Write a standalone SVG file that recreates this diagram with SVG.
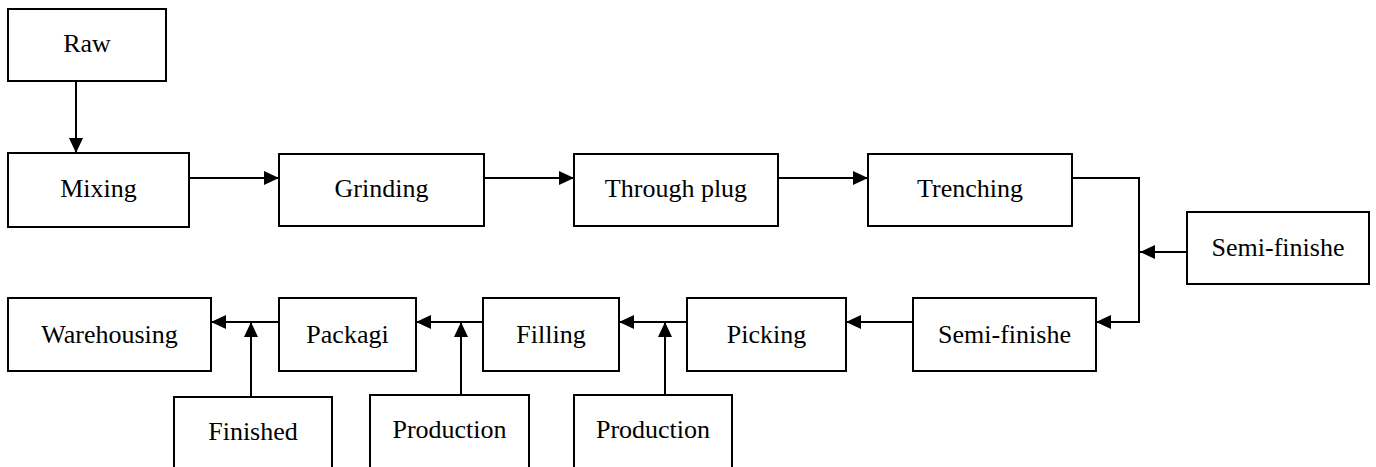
<svg xmlns="http://www.w3.org/2000/svg" width="1376" height="467" viewBox="0 0 1376 467">
<style>
.box{fill:#fff;stroke:#000;stroke-width:2}
.lbl{font-size:26px;fill:#000;text-anchor:middle}
.con{fill:none;stroke:#000;stroke-width:2}
</style>
<defs>
<marker id="ah" markerUnits="userSpaceOnUse" markerWidth="16" markerHeight="14" refX="15" refY="7" orient="auto">
<path d="M0,0 L15,7 L0,14 z" fill="#000"/>
</marker>
</defs>
<g id="connectors">
<path class="con" d="M76,81 V153" marker-end="url(#ah)"/>
<path class="con" d="M189,178 H279" marker-end="url(#ah)"/>
<path class="con" d="M484,178 H574" marker-end="url(#ah)"/>
<path class="con" d="M778,178 H868" marker-end="url(#ah)"/>
<path class="con" d="M1072,178 H1139 V322 H1096" marker-end="url(#ah)"/>
<path class="con" d="M1187,252 H1140" marker-end="url(#ah)"/>
<path class="con" d="M913,322 H846" marker-end="url(#ah)"/>
<path class="con" d="M687,322 H619" marker-end="url(#ah)"/>
<path class="con" d="M483,322 H416" marker-end="url(#ah)"/>
<path class="con" d="M279,322 H211" marker-end="url(#ah)"/>
<path class="con" d="M251,397 V322" marker-end="url(#ah)"/>
<path class="con" d="M461,395 V322" marker-end="url(#ah)"/>
<path class="con" d="M665,395 V322" marker-end="url(#ah)"/>
</g>
<g font-family="Liberation Serif, Times New Roman, DejaVu Serif, serif">
<g id="raw"><rect class="box" x="8" y="9" width="158" height="72"/><text class="lbl" x="87" y="52">Raw</text></g>
<g id="mixing"><rect class="box" x="8" y="153" width="181" height="74"/><text class="lbl" x="98.5" y="197">Mixing</text></g>
<g id="grinding"><rect class="box" x="279" y="154" width="205" height="72"/><text class="lbl" x="381.5" y="197">Grinding</text></g>
<g id="through-plug"><rect class="box" x="574" y="154" width="204" height="72"/><text class="lbl" x="676" y="197">Through plug</text></g>
<g id="trenching"><rect class="box" x="868" y="154" width="204" height="72"/><text class="lbl" x="970" y="197">Trenching</text></g>
<g id="semi-finishe-in"><rect class="box" x="1187" y="212" width="182" height="72"/><text class="lbl" x="1278" y="256">Semi-finishe</text></g>
<g id="semi-finishe"><rect class="box" x="913" y="298" width="183" height="73"/><text class="lbl" x="1004.5" y="343">Semi-finishe</text></g>
<g id="picking"><rect class="box" x="687" y="298" width="159" height="73"/><text class="lbl" x="766.5" y="343">Picking</text></g>
<g id="filling"><rect class="box" x="483" y="298" width="136" height="73"/><text class="lbl" x="551" y="343">Filling</text></g>
<g id="packagi"><rect class="box" x="279" y="298" width="137" height="73"/><text class="lbl" x="347.5" y="343">Packagi</text></g>
<g id="warehousing"><rect class="box" x="8" y="298" width="203" height="73"/><text class="lbl" x="109.5" y="343">Warehousing</text></g>
<g id="finished"><rect class="box" x="174" y="397" width="158" height="80"/><text class="lbl" x="253" y="440">Finished</text></g>
<g id="production-1"><rect class="box" x="370" y="395" width="159" height="82"/><text class="lbl" x="449.5" y="438">Production</text></g>
<g id="production-2"><rect class="box" x="574" y="395" width="158" height="82"/><text class="lbl" x="653" y="438">Production</text></g>
</g>
</svg>
